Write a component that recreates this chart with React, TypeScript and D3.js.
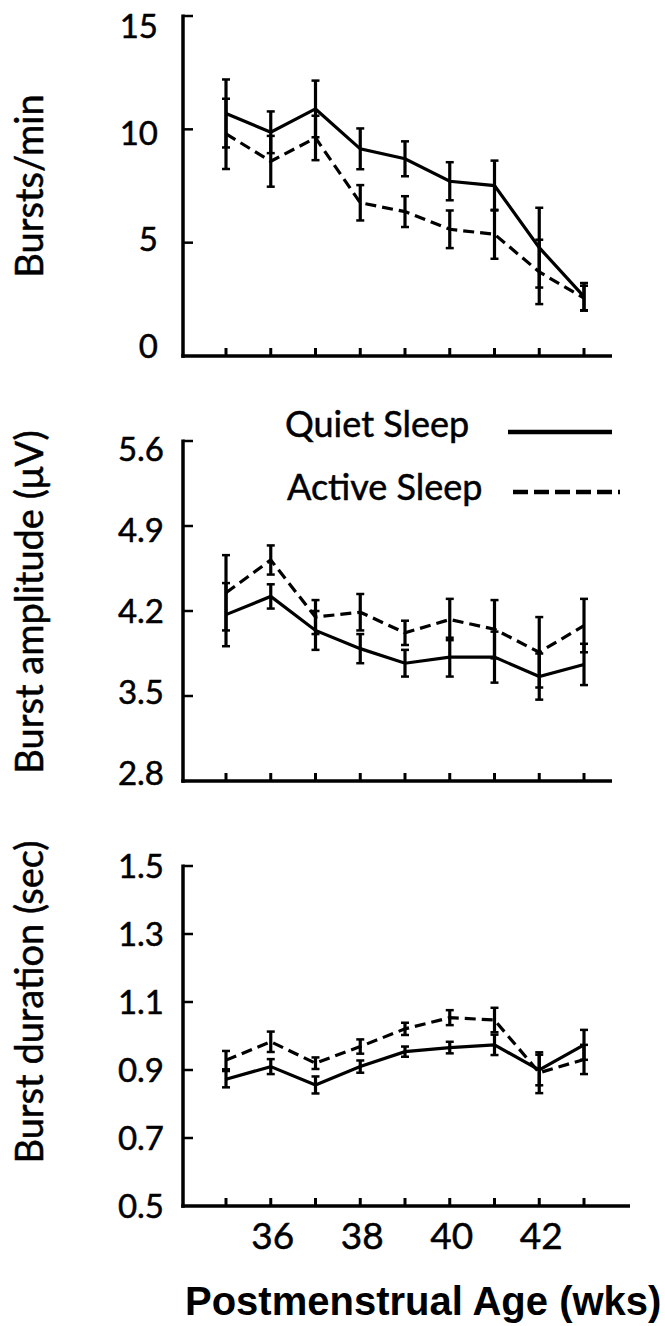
import React from "react";
import * as d3 from "d3";

const weeks = [35, 36, 37, 38, 39, 40, 41, 42, 43];
const xTickLabels = [36, 38, 40, 42];

// Panel 1: Bursts/min
const burstsQuiet = [10.7, 9.87, 10.9, 9.14, 8.7, 7.71, 7.52, 4.78, 2.62];
const burstsQuietErr = [1.5, 0.92, 1.25, 0.9, 0.77, 0.84, 1.1, 1.76, 0.6];
const burstsActive = [9.8, 8.59, 9.62, 6.76, 6.37, 5.59, 5.37, 3.71, 2.55];
const burstsActiveErr = [1.55, 1.12, 0.98, 0.78, 0.68, 0.83, 1.08, 1.42, 0.55];
const burstsTicks = [0, 5, 10, 15];

// Panel 2: Burst amplitude
const ampQuiet = [4.17, 4.32, 4.04, 3.89, 3.77, 3.82, 3.82, 3.66, 3.76];
const ampQuietErr = [0.26, 0.1, 0.16, 0.12, 0.11, 0.16, 0.21, 0.19, 0.17];
const ampActive = [4.35, 4.62, 4.15, 4.19, 4.02, 4.13, 4.05, 3.86, 4.08];
const ampActiveErr = [0.31, 0.12, 0.14, 0.15, 0.1, 0.17, 0.24, 0.29, 0.22];
const ampTicks = [2.8, 3.5, 4.2, 4.9, 5.6];

// Panel 3: Burst duration
const durQuiet = [0.873, 0.91, 0.856, 0.91, 0.954, 0.966, 0.974, 0.9, 0.974];
const durQuietErr = [0.024, 0.022, 0.025, 0.018, 0.015, 0.017, 0.03, 0.045, 0.044];
const durActive = [0.929, 0.983, 0.92, 0.969, 1.021, 1.054, 1.047, 0.892, 0.931];
const durActiveErr = [0.027, 0.03, 0.017, 0.021, 0.018, 0.022, 0.036, 0.06, 0.043];
const durTicks = [0.5, 0.7, 0.9, 1.1, 1.3, 1.5];

const legendLabels = ["Quiet Sleep", "Active Sleep"];
const xTitle = "Postmenstrual Age (wks)";

const FONT = "Lato, 'Open Sans', sans-serif";
const TEXT_STROKE = { stroke: "#000", strokeWidth: 0.5 };

const x = d3.scaleLinear().domain([34, 43]).range([181.25, 584]);
const AXIS_X = 183;

type Panel = {
  title: string;
  titleY: number;
  domain: [number, number];
  range: [number, number];
  labelRange: [number, number];
  ticks: number[];
  fmt: (v: number) => string;
  labelRight: number;
  axisEnd: number;
  quiet: number[];
  quietErr: number[];
  active: number[];
  activeErr: number[];
};

const panels: Panel[] = [
  {
    title: "Bursts/min",
    titleY: 186,
    domain: [0, 15],
    range: [356, 16],
    labelRange: [346, 26],
    ticks: burstsTicks,
    fmt: (v) => String(v),
    labelRight: 158,
    axisEnd: 612,
    quiet: burstsQuiet,
    quietErr: burstsQuietErr,
    active: burstsActive,
    activeErr: burstsActiveErr,
  },
  {
    title: "Burst amplitude  (μV)",
    titleY: 602,
    domain: [2.8, 5.6],
    range: [781, 441],
    labelRange: [773, 449],
    ticks: ampTicks,
    fmt: (v) => v.toFixed(1),
    labelRight: 164,
    axisEnd: 612,
    quiet: ampQuiet,
    quietErr: ampQuietErr,
    active: ampActive,
    activeErr: ampActiveErr,
  },
  {
    title: "Burst duration  (sec)",
    titleY: 1002,
    domain: [0.5, 1.5],
    range: [1206, 866],
    labelRange: [1206, 866],
    ticks: durTicks,
    fmt: (v) => v.toFixed(1),
    labelRight: 164,
    axisEnd: 630,
    quiet: durQuiet,
    quietErr: durQuietErr,
    active: durActive,
    activeErr: durActiveErr,
  },
];

function PanelView({ p }: { p: Panel }) {
  const y = d3.scaleLinear().domain(p.domain).range(p.range);
  const yl = d3.scaleLinear().domain(p.domain).range(p.labelRange);
  const line = d3
    .line<number>()
    .x((_, i) => x(weeks[i]))
    .y((v) => y(v));
  const bottom = y(p.domain[0]);
  const top = y(p.domain[1]);
  const bars = (vals: number[], errs: number[], key: string) =>
    vals.map((v, i) => {
      const cx = x(weeks[i]);
      const y1 = y(v + errs[i]);
      const y2 = y(v - errs[i]);
      return (
        <g key={key + i}>
          <line x1={cx} x2={cx} y1={y1} y2={y2} stroke="#000" strokeWidth={3.2} />
          <line x1={cx - 4} x2={cx + 4} y1={y1} y2={y1} stroke="#000" strokeWidth={2.5} />
          <line x1={cx - 4} x2={cx + 4} y1={y2} y2={y2} stroke="#000" strokeWidth={2.5} />
        </g>
      );
    });
  return (
    <g>
      <line x1={AXIS_X} x2={AXIS_X} y1={top - 1.5} y2={bottom + 1.75} stroke="#000" strokeWidth={3.5} />
      {p.ticks.map((t) => (
        <g key={"yt" + t}>
          {t !== p.domain[0] && (
            <line x1={AXIS_X} x2={AXIS_X + 10} y1={y(t)} y2={y(t)} stroke="#000" strokeWidth={2.5} />
          )}
          <text
            x={p.labelRight}
            y={yl(t)}
            dy="0.36em"
            textAnchor="end"
            fontFamily={FONT}
            fontSize={33}
            fill="#000"
            {...TEXT_STROKE}
          >
            {p.fmt(t)}
          </text>
        </g>
      ))}
      <line x1={AXIS_X - 1.75} x2={p.axisEnd} y1={bottom} y2={bottom} stroke="#000" strokeWidth={3.5} />
      {weeks.map((w) => (
        <line key={"xt" + w} x1={x(w)} x2={x(w)} y1={bottom} y2={bottom - 8} stroke="#000" strokeWidth={3} />
      ))}
      <text
        transform={`translate(43,${p.titleY}) rotate(-90)`}
        textAnchor="middle"
        fontFamily={FONT}
        fontSize={38}
        fill="#000"
        {...TEXT_STROKE}
      >
        {p.title}
      </text>
      {bars(p.active, p.activeErr, "a")}
      {bars(p.quiet, p.quietErr, "q")}
      <path d={line(p.quiet) || ""} fill="none" stroke="#000" strokeWidth={3.2} />
      <path d={line(p.active) || ""} fill="none" stroke="#000" strokeWidth={3.2} strokeDasharray="11,6" />
    </g>
  );
}

export default function App() {
  const bottomY = panels[2].range[0];
  return (
    <svg
      width={665}
      height={1326}
      style={{ position: "absolute", left: 0, top: 0, background: "#fff" }}
    >
      <rect width={665} height={1326} fill="#fff" />
      {panels.map((p, i) => (
        <PanelView key={i} p={p} />
      ))}
      {xTickLabels.map((t) => (
        <text
          key={"xl" + t}
          x={x(t) + 2}
          y={bottomY + 43}
          textAnchor="middle"
          fontFamily={FONT}
          fontSize={37}
          fill="#000"
          {...TEXT_STROKE}
        >
          {t}
        </text>
      ))}
      <text
        x={185}
        y={1315}
        fontFamily="'Liberation Sans', Arial, sans-serif"
        fontWeight="bold"
        fontSize={40}
        fill="#000"
      >
        {xTitle}
      </text>
      <text x={285} y={437} fontFamily={FONT} fontSize={36} fill="#000" {...TEXT_STROKE}>
        {legendLabels[0]}
      </text>
      <line x1={508} x2={612} y1={432} y2={432} stroke="#000" strokeWidth={4.5} />
      <text x={287} y={500} fontFamily={FONT} fontSize={36} fill="#000" {...TEXT_STROKE}>
        {legendLabels[1]}
      </text>
      <line x1={513} x2={620} y1={492} y2={492} stroke="#000" strokeWidth={4.5} strokeDasharray="15,6" />
    </svg>
  );
}
